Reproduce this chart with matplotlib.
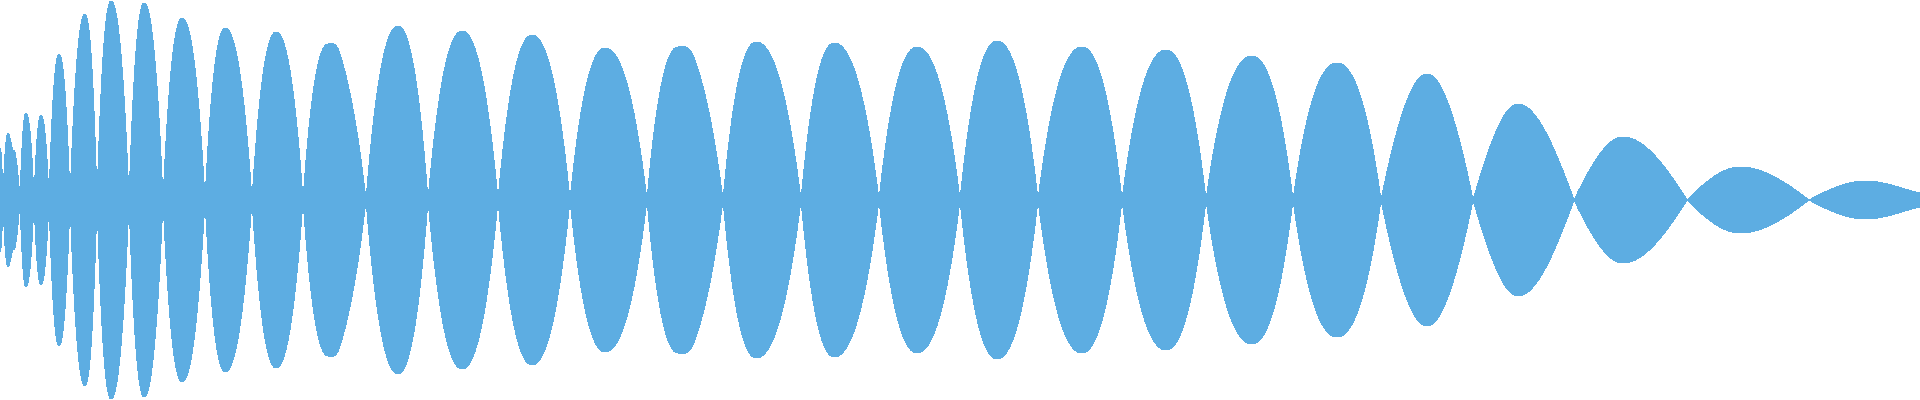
import numpy as np
import matplotlib
matplotlib.use("Agg")
import matplotlib.pyplot as plt

# ---- data (x position, envelope amplitude) ----
node_x = [3, 20, 34, 49, 70, 97, 129, 163, 205, 252, 303, 366, 428, 498, 570,
          647, 723, 801, 879, 960, 1038, 1122, 1206, 1293, 1381, 1473, 1574,
          1687, 1809]
peak_x = [0, 8, 26, 41, 59, 85, 111, 144, 182, 225, 276, 328, 398, 462, 532,
          605, 678, 756, 834, 917, 997, 1082, 1166, 1252, 1337, 1427, 1518,
          1623, 1740, 1866]
peak_amp = [52, 67, 87, 85, 146, 186, 199, 197, 182, 172, 168, 156, 174, 169,
            165, 152, 153, 158, 157, 153, 159, 153, 150, 144, 137, 126, 96,
            63, 33, 19]
shoulder_x = [13, 15, 340, 695]
shoulder_amp = [50, 48, 146, 140]
end_x = [1920]
end_amp = [7]

# lobe fullness (edge steepness at the zero points), one per lobe
fullness = [2.3] * 25 + [1.8, 1.6, 1.6, 1.6, 1.6]

COLOR = "#5DADE2"

# ---- assemble control points ----
pts = ([(x, 0.0, "n") for x in node_x] +
       [(x, a, "p") for x, a in zip(peak_x, peak_amp)] +
       [(x, a, "s") for x, a in zip(shoulder_x, shoulder_amp)] +
       [(x, a, "e") for x, a in zip(end_x, end_amp)])
pts.sort(key=lambda p: p[0])
X = np.array([p[0] for p in pts], float)
A = np.array([p[1] for p in pts], float)
T = [p[2] for p in pts]
sec = np.diff(A) / np.diff(X)
node_arr = np.array(node_x, float)


def lobe_index(xm):
    return int(np.searchsorted(node_arr, xm))


def slope(i, seg):
    t = T[i]
    if t == "p":
        return 0.0
    if t == "n":
        other = seg if i == seg + 1 else seg + 1
        if T[other] == "s":
            return np.pi / 2 * sec[seg]
        xm = 0.5 * (X[seg] + X[seg + 1])
        return fullness[lobe_index(xm)] * sec[seg]
    if t == "s":
        return 0.5 * (sec[i - 1] + sec[i])
    return sec[seg]


xs, ys = [], []
for k in range(len(X) - 1):
    x0, x1 = X[k], X[k + 1]
    h = x1 - x0
    m0 = slope(k, k)
    m1 = slope(k + 1, k)
    t = np.linspace(0, 1, max(int(h * 6), 8))
    h00 = 2 * t**3 - 3 * t**2 + 1
    h10 = t**3 - 2 * t**2 + t
    h01 = -2 * t**3 + 3 * t**2
    h11 = t**3 - t**2
    y = A[k] * h00 + h * m0 * h10 + A[k + 1] * h01 + h * m1 * h11
    xs.append(x0 + t * h)
    ys.append(np.clip(y, 0, None))
xs = np.concatenate(xs)
ys = np.concatenate(ys)

fig = plt.figure(figsize=(19.2, 4), dpi=100)
ax = fig.add_axes([0, 0, 1, 1])
ax.fill_between(xs, -ys, ys, color=COLOR, linewidth=0, antialiased=False)
ax.set_xlim(0, 1920)
ax.set_ylim(-200, 200)
ax.axis("off")
fig.savefig("out.png", dpi=100, facecolor="white")
